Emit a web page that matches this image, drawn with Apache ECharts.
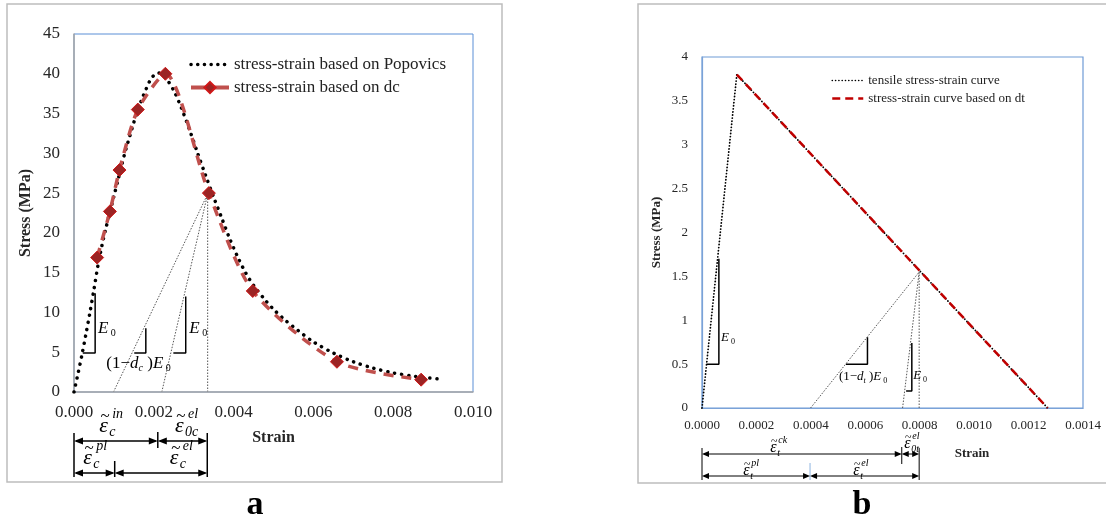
<!DOCTYPE html>
<html><head><meta charset="utf-8">
<script src="https://cdn.jsdelivr.net/npm/echarts@6/dist/echarts.min.js"></script>
<style>html,body{margin:0;padding:0;background:#fff}#c{width:1106px;height:518px}</style>
</head><body><div id="c"></div>
<script>
// ---------- Panel a (compression) ----------
const popStrain = [0, 0.0001, 0.0002, 0.0003, 0.0004, 0.0005, 0.0006, 0.0007, 0.0008, 0.0009, 0.001, 0.0011, 0.0012, 0.0013, 0.0014, 0.0015, 0.0016, 0.0017, 0.0018, 0.0019, 0.002, 0.0021, 0.0022, 0.0023, 0.0025, 0.0027, 0.0029, 0.0031, 0.0033, 0.0035, 0.0037, 0.0039, 0.0041, 0.0043, 0.0045, 0.0048, 0.005, 0.0053, 0.0056, 0.006, 0.0065, 0.007, 0.0075, 0.008, 0.0085, 0.0092];
const popStress = [0, 2.3, 4.7, 7.3, 10.0, 12.9, 15.9, 18.4, 20.6, 22.6, 24.6, 26.6, 28.6, 30.5, 32.2, 33.9, 35.4, 36.8, 38.0, 39.1, 39.8, 40.1, 40.0, 39.5, 37.9, 35.6, 32.9, 30.0, 27.2, 24.5, 21.9, 19.3, 17.0, 15.0, 13.4, 11.5, 10.4, 9.0, 7.8, 6.3, 4.9, 3.8, 3.0, 2.4, 2.0, 1.6];
const dcStrain = [0.00058, 0.0009, 0.00114, 0.0016, 0.00229, 0.00338, 0.00448, 0.00659, 0.0087];
const dcStress = [16.9, 22.7, 27.9, 35.5, 40.0, 25.0, 12.7, 3.8, 1.55];
const aUnloadPoint = [0.00335, 24.9];
const aUnloadFeet = [0.00099, 0.0022, 0.00335];
const aTriangles = [
  [[0.00022, 4.9], [0.00053, 4.9], [0.00053, 12.4]],
  [[0.00151, 4.9], [0.0018, 4.9], [0.0018, 8.0]],
  [[0.00249, 4.9], [0.0028, 4.9], [0.0028, 12.0]]
];
const aArrowRow1 = [0, 0.0021, 0.00334];
const aArrowRow2 = [0, 0.00102, 0.00334];

// ---------- Panel b (tension) ----------
const tenStrain = [0, 0.000128, 0.00127];
const tenStress = [0, 3.8, 0];
const dtStrain = [0.000128, 0.00127];
const dtStress = [3.8, 0];
const bUnloadPoint = [0.000798, 1.55];
const bUnloadFeet = [0.000399, 0.000737, 0.000798];
const bTriangles = [
  [[0.000017, 0.5], [0.000062, 0.5], [0.000062, 1.7]],
  [[0.000529, 0.5], [0.000608, 0.5], [0.000608, 0.805]],
  [[0.00075, 0.195], [0.000771, 0.195], [0.000771, 0.74]]
];
const bArrowRow1 = [0, 0.000734, 0.000798];
const bArrowRow2 = [0, 0.000397, 0.000798];

const SERIF = 'Liberation Serif';
const zip = (a, b) => a.map((v, i) => [v, b[i]]);

function txt(x, y, text, size, italic, align) {
  return {type: 'text', x: x, y: y, style: {text: text, fontSize: size, fontFamily: SERIF,
    fontStyle: italic ? 'italic' : 'normal', fill: '#000', align: align || 'left', verticalAlign: 'middle'}};
}
function richTxt(x, y, text, big, small) {
  return {type: 'text', x: x, y: y, style: {text: text, fontFamily: SERIF, fill: '#000',
    align: 'left', verticalAlign: 'middle',
    rich: {
      n: {fontSize: big, fontFamily: SERIF, lineHeight: big + 4},
      i: {fontSize: big, fontFamily: SERIF, fontStyle: 'italic', lineHeight: big + 4},
      s: {fontSize: small, fontFamily: SERIF, fontStyle: 'italic', verticalAlign: 'bottom', lineHeight: small + 1},
      z: {fontSize: small, fontFamily: SERIF, verticalAlign: 'bottom', lineHeight: small + 1}
    }}};
}
function epsLabel(x, y, sup, sub, big, small, o) {
  return [
    txt(x + o.tx, y + o.ty, '~', o.ts, false, 'center'),
    txt(x, y, 'ε', big, true),
    txt(x + o.px, y + o.py, sup, small, true),
    txt(x + o.bx, y + o.by, sub, small, true)
  ];
}
function vbar(x, y1, y2, w, color) {
  return {type: 'line', shape: {x1: x, y1: y1, x2: x, y2: y2}, style: {stroke: color || '#000', lineWidth: w}};
}
function arrow(x1, x2, y, w, hl, hw) {
  return [
    {type: 'line', shape: {x1: x1 + 2, y1: y, x2: x2 - 2, y2: y}, style: {stroke: '#000', lineWidth: w}},
    {type: 'polygon', shape: {points: [[x1, y], [x1 + hl, y - hw], [x1 + hl, y + hw]]}, style: {fill: '#000'}},
    {type: 'polygon', shape: {points: [[x2, y], [x2 - hl, y - hw], [x2 - hl, y + hw]]}, style: {fill: '#000'}}
  ];
}

function renderA(params, api) {
  const base = api.coord([0, 0])[1];
  const X = v => api.coord([v, 0])[0];
  const P = (a, b) => api.coord([a, b]);
  let ch = [];
  let p = P(0.0006, 8.0);
  ch.push(richTxt(p[0], p[1], '{i|E}{z| 0}', 17, 10));
  p = P(0.00081, 3.6);
  ch.push(richTxt(p[0], p[1], '{n|(1−}{i|d}{s|c}{n| )}{i|E}{z| 0}', 17, 10));
  p = P(0.00289, 8.0);
  ch.push(richTxt(p[0], p[1], '{i|E}{z| 0}', 17, 10));
  const r1 = aArrowRow1.map(X), r2 = aArrowRow2.map(X);
  ch.push(vbar(r1[0], base + 41, base + 85, 1.5));
  ch.push(vbar(r1[2], base + 41, base + 85, 1.5));
  ch.push(vbar(r1[1], base + 40, base + 56, 1.5));
  ch.push(vbar(r2[1], base + 69, base + 85, 1.5));
  ch = ch.concat(arrow(r1[0], r1[1], base + 49, 1.5, 9, 3.5));
  ch = ch.concat(arrow(r1[1], r1[2], base + 49, 1.5, 9, 3.5));
  ch = ch.concat(arrow(r2[0], r2[1], base + 81, 1.5, 9, 3.5));
  ch = ch.concat(arrow(r2[1], r2[2], base + 81, 1.5, 9, 3.5));
  const o = {tx: 6, ty: -9, ts: 17, px: 13, py: -12, bx: 10, by: 6};
  ch = ch.concat(epsLabel(X(0.00063), base + 34, 'in', 'c', 22, 14, o));
  ch = ch.concat(epsLabel(X(0.00253), base + 34, 'el', '0c', 22, 14, o));
  ch = ch.concat(epsLabel(X(0.00023), base + 66, 'pl', 'c', 22, 14, o));
  ch = ch.concat(epsLabel(X(0.0024), base + 66, 'el', 'c', 22, 14, o));
  return {type: 'group', children: ch};
}

function renderB(params, api) {
  const base = api.coord([0, 0])[1];
  const X = v => api.coord([v, 0])[0];
  const P = (a, b) => api.coord([a, b]);
  let ch = [];
  let p = P(0.00007, 0.8);
  ch.push(richTxt(p[0], p[1], '{i|E}{z| 0}', 13, 8));
  p = P(0.000503, 0.355);
  ch.push(richTxt(p[0], p[1], '{n|(1−}{i|d}{s|t}{n| )}{i|E}{z| 0}', 13, 8));
  p = P(0.000776, 0.374);
  ch.push(richTxt(p[0], p[1], '{i|E}{z| 0}', 13, 8));
  const r1 = bArrowRow1.map(X), r2 = bArrowRow2.map(X);
  ch.push(vbar(r1[0], base + 40, base + 72, 1));
  ch.push(vbar(r1[2], base + 40, base + 72, 1));
  ch.push(vbar(r1[1], base + 39, base + 56, 1));
  ch.push(vbar(r2[1], base + 55, base + 72, 1, '#8db4e2'));
  ch = ch.concat(arrow(r1[0], r1[1], base + 46, 1, 7, 3));
  ch = ch.concat(arrow(r1[1], r1[2], base + 46, 1, 7, 3));
  ch = ch.concat(arrow(r2[0], r2[1], base + 68, 1, 7, 3));
  ch = ch.concat(arrow(r2[1], r2[2], base + 68, 1, 7, 3));
  const o = {tx: 4, ty: -6.5, ts: 12, px: 8, py: -8, bx: 7, by: 5};
  ch = ch.concat(epsLabel(X(0.000251), base + 40, 'ck', 't', 16, 10, o));
  ch = ch.concat(epsLabel(X(0.000743), base + 36, 'el', '0t', 16, 10, o));
  ch = ch.concat(epsLabel(X(0.000152), base + 63, 'pl', 't', 16, 10, o));
  ch = ch.concat(epsLabel(X(0.000556), base + 63, 'el', 't', 16, 10, o));
  return {type: 'group', children: ch};
}

function segSeries(point, feet, xi, yi) {
  return feet.map(f => ({type: 'line', xAxisIndex: xi, yAxisIndex: yi, data: [[f, 0], point],
    symbol: 'none', silent: true, z: 2, lineStyle: {color: '#555', width: 1, type: [1.5, 1.5]}}));
}
function triSeries(tris, xi, yi, w) {
  return tris.map(t => ({type: 'line', xAxisIndex: xi, yAxisIndex: yi, data: t,
    symbol: 'none', silent: true, z: 2, lineStyle: {color: '#000', width: w, type: 'solid'}}));
}

const chart = echarts.init(document.getElementById('c'), null, {width: 1106, height: 518});
const axisText = (size) => ({fontFamily: SERIF, fontSize: size, color: '#262626'});
const noSym = {opacity: 0};

chart.setOption({
  animation: false,
  backgroundColor: '#fff',
  grid: [
    {left: 74, top: 34, width: 399, height: 358, show: true, borderColor: '#5b8fd6', borderWidth: 1},
    {left: 702, top: 57, width: 381, height: 351, show: true, borderColor: '#6f9bd6', borderWidth: 1.2}
  ],
  xAxis: [
    {gridIndex: 0, type: 'value', min: 0, max: 0.01, interval: 0.002, z: 3,
      axisLine: {onZero: false, lineStyle: {color: '#a6a6a6', width: 1.5}}, axisTick: {show: false}, splitLine: {show: false},
      axisLabel: Object.assign({formatter: v => v.toFixed(3), margin: 12}, axisText(17)),
      name: 'Strain', nameLocation: 'middle', nameGap: 38,
      nameTextStyle: {fontFamily: SERIF, fontSize: 16, fontWeight: 'bold', color: '#262626'}},
    {gridIndex: 1, type: 'value', min: 0, max: 0.0014, interval: 0.0002, z: 3,
      axisLine: {onZero: false, lineStyle: {color: '#7aa2d8', width: 1.2}}, axisTick: {show: false}, splitLine: {show: false},
      axisLabel: Object.assign({formatter: v => v.toFixed(4), margin: 11}, axisText(13))}
  ],
  yAxis: [
    {gridIndex: 0, type: 'value', min: 0, max: 45, interval: 5, z: 3,
      axisLine: {show: true, onZero: false, lineStyle: {color: '#a6a6a6', width: 1.5}}, axisTick: {show: false}, splitLine: {show: false},
      axisLabel: Object.assign({margin: 14}, axisText(17)),
      name: 'Stress (MPa)', nameLocation: 'middle', nameGap: 40,
      nameTextStyle: {fontFamily: SERIF, fontSize: 16, fontWeight: 'bold', color: '#262626'}},
    {gridIndex: 1, type: 'value', min: 0, max: 4, interval: 0.5, z: 3,
      axisLine: {show: true, onZero: false, lineStyle: {color: '#7aa2d8', width: 1.2}}, axisTick: {show: false}, splitLine: {show: false},
      axisLabel: Object.assign({margin: 14}, axisText(13)),
      name: 'Stress (MPa)', nameLocation: 'middle', nameGap: 39,
      nameTextStyle: {fontFamily: SERIF, fontSize: 13, fontWeight: 'bold', color: '#262626'}}
  ],
  legend: [
    {data: [
        {name: 'stress-strain based on Popovics', itemStyle: noSym, lineStyle: {width: 3.5, type: [0.1, 6.6], cap: 'round', color: '#000'}},
        {name: 'stress-strain based on dc', lineStyle: {width: 4, type: 'solid', color: '#C0504D'}}],
      orient: 'vertical', left: 189, top: 56, itemWidth: 38, itemHeight: 14, itemGap: 6, padding: 0,
      textStyle: {fontFamily: SERIF, fontSize: 17, color: '#222'}},
    {data: [
        {name: 'tensile stress-strain curve', itemStyle: noSym, lineStyle: {width: 1.6, type: [0.1, 3.2], cap: 'round', color: '#000'}},
        {name: 'stress-strain curve based on dt', itemStyle: noSym, lineStyle: {width: 2.5, type: [8, 5], color: '#C00000'}}],
      orient: 'vertical', left: 831, top: 74, itemWidth: 31, itemHeight: 10, itemGap: 5, padding: 0,
      textStyle: {fontFamily: SERIF, fontSize: 13, color: '#222'}}
  ],
  graphic: [
    {type: 'rect', shape: {x: 7, y: 4, width: 495, height: 478}, style: {fill: 'none', stroke: '#bdbdbd', lineWidth: 1.5}, z: -1},
    {type: 'rect', shape: {x: 638, y: 4, width: 480, height: 479}, style: {fill: 'none', stroke: '#bdbdbd', lineWidth: 1.5}, z: -1},
    {type: 'text', x: 255, y: 505, style: {text: 'a', font: 'bold 34px "Liberation Serif"', fill: '#000', align: 'center', verticalAlign: 'middle'}},
    {type: 'text', x: 862, y: 505, style: {text: 'b', font: 'bold 34px "Liberation Serif"', fill: '#000', align: 'center', verticalAlign: 'middle'}},
    {type: 'text', x: 972, y: 454, style: {text: 'Strain', font: 'bold 13px "Liberation Serif"', fill: '#262626', align: 'center', verticalAlign: 'middle'}}
  ],
  series: [
    {name: 'stress-strain based on Popovics', type: 'line', xAxisIndex: 0, yAxisIndex: 0, data: zip(popStrain, popStress),
      smooth: 0.3, symbol: 'none', z: 3, itemStyle: {color: '#000'},
      lineStyle: {color: '#000', width: 3.5, type: [0.1, 7], cap: 'round'}},
    {name: 'stress-strain based on dc', type: 'line', xAxisIndex: 0, yAxisIndex: 0, data: zip(dcStrain, dcStress),
      smooth: 0.25, symbol: 'diamond', symbolSize: 13, showAllSymbol: true, z: 4,
      itemStyle: {color: '#9c2424', borderColor: '#d01818', borderWidth: 1},
      lineStyle: {color: '#C0504D', width: 3.5, type: [10, 8]}},
    ...segSeries(aUnloadPoint, aUnloadFeet, 0, 0),
    ...triSeries(aTriangles, 0, 0, 1.5),
    {type: 'custom', xAxisIndex: 0, yAxisIndex: 0, data: [[0, 0]], renderItem: renderA, silent: true, clip: false, z: 5},
    {name: 'tensile stress-strain curve', type: 'line', xAxisIndex: 1, yAxisIndex: 1, data: zip(tenStrain, tenStress),
      symbol: 'none', z: 3, itemStyle: {color: '#000'},
      lineStyle: {color: '#000', width: 1.8, type: [0.1, 3], cap: 'round'}},
    {name: 'stress-strain curve based on dt', type: 'line', xAxisIndex: 1, yAxisIndex: 1, data: zip(dtStrain, dtStress),
      symbol: 'none', z: 4, itemStyle: {color: '#C00000'},
      lineStyle: {color: '#C00000', width: 2.5, type: [8, 5]}},
    ...segSeries(bUnloadPoint, bUnloadFeet, 1, 1),
    ...triSeries(bTriangles, 1, 1, 1.5),
    {type: 'custom', xAxisIndex: 1, yAxisIndex: 1, data: [[0, 0]], renderItem: renderB, silent: true, clip: false, z: 5}
  ]
});
</script></body></html>
